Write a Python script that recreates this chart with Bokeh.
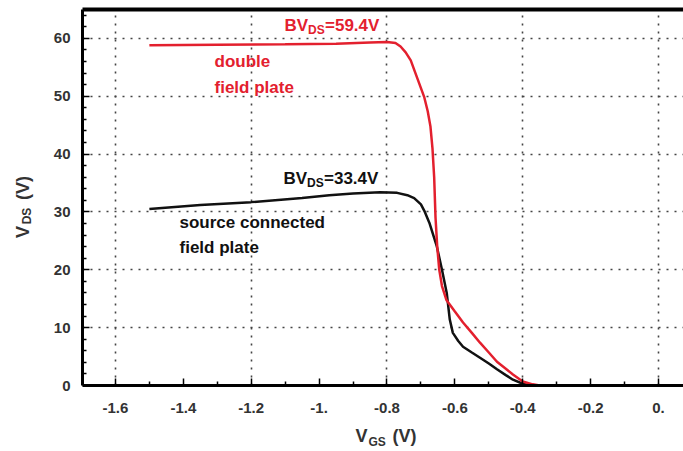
import math
from bokeh.plotting import figure
from bokeh.models import Label, Range1d, FixedTicker, LinearAxis
from bokeh.embed import file_html
from bokeh.resources import INLINE

# ---- data ----
black_x = [-1.50, -1.35, -1.20, -1.05, -0.97, -0.90, -0.82, -0.77, -0.74, -0.72, -0.70, -0.69,
           -0.675, -0.653, -0.638, -0.624, -0.615, -0.606, -0.59, -0.576, -0.55, -0.526, -0.50,
           -0.476, -0.45, -0.429, -0.40, -0.38, -0.35, -0.20, 0.0]
black_y = [30.5, 31.2, 31.7, 32.4, 32.9, 33.2, 33.4, 33.3, 32.9, 32.4, 31.3, 30.2,
           28.1, 24.0, 20.0, 16.0, 11.4, 9.1, 7.7, 6.7, 5.7, 4.8, 3.8,
           2.8, 1.8, 1.0, 0.3, 0.0, 0.0, 0.0, 0.0]

red_x = [-1.50, -1.30, -1.10, -0.95, -0.85, -0.80, -0.775, -0.76, -0.745, -0.73, -0.71, -0.69,
         -0.68, -0.672, -0.666, -0.661, -0.657, -0.652, -0.646, -0.638, -0.625, -0.60, -0.576,
         -0.55, -0.526, -0.50, -0.476, -0.45, -0.429, -0.40, -0.371, -0.35, 0.0]
red_y = [58.8, 58.9, 59.0, 59.1, 59.3, 59.4, 59.2, 58.6, 57.6, 56.2, 53.0, 49.8,
         47.4, 44.8, 41.0, 36.0, 29.0, 24.0, 20.0, 17.2, 14.8, 12.8, 10.9,
         9.1, 7.4, 5.7, 4.1, 2.9, 1.9, 0.7, 0.2, 0.0, 0.0]

x_tick_vals = [-1.6, -1.4, -1.2, -1.0, -0.8, -0.6, -0.4, -0.2, 0.0]
x_tick_labels = ["-1.6", "-1.4", "-1.2", "-1.", "-0.8", "-0.6", "-0.4", "-0.2", "0."]
x_minor_vals = [-1.7, -1.5, -1.3, -1.1, -0.9, -0.7, -0.5, -0.3, -0.1]
x_grid_vals = [-1.6, -1.2, -0.8, -0.4, 0.0]
y_tick_vals = [0, 10, 20, 30, 40, 50, 60]
y_minor_vals = [2, 4, 6, 8, 12, 14, 16, 18, 22, 24, 26, 28, 32, 34, 36, 38, 42, 44, 46, 48,
                52, 54, 56, 58, 62, 64]
y_grid_vals = [10, 20, 30, 40, 50, 60]

X0, X1 = -1.697, 0.0735
Y0, Y1 = 0, 65
W, H = 683, 451
LEFT, RIGHT, TOP, BOTTOM = 82, 0, 9, 65
FONT = "Liberation Sans"
RED = "#e3202e"
DARK = "#111111"
GRAY = "#333333"

p = figure(width=W, height=H, x_range=Range1d(X0, X1), y_range=Range1d(Y0, Y1),
           output_backend="svg", toolbar_location=None,
           min_border_left=LEFT, min_border_right=RIGHT,
           min_border_top=TOP, min_border_bottom=BOTTOM)
p.outline_line_color = None
p.background_fill_color = "white"
p.border_fill_color = "white"

SX = (W - LEFT - RIGHT) / (X1 - X0)   # px per data unit
SY = (H - TOP - BOTTOM) / (Y1 - Y0)


def px2x(px):
    return X0 + (px - LEFT) / SX


def py2y(py):
    return Y1 - (py - TOP) / SY


# axes
for ax in (p.xaxis[0], p.yaxis[0]):
    ax.axis_line_width = 3
    ax.axis_line_color = "black"
    ax.major_tick_in = 7
    ax.major_tick_out = 0
    ax.minor_tick_in = 4
    ax.minor_tick_out = 0
    ax.major_tick_line_width = 1.5
    ax.minor_tick_line_width = 1.5
    ax.major_tick_line_color = "black"
    ax.minor_tick_line_color = "black"
    ax.major_label_text_font = FONT
    ax.major_label_text_font_style = "bold"
    ax.major_label_text_font_size = "15px"
    ax.major_label_text_color = GRAY

p.xaxis.ticker = FixedTicker(ticks=x_tick_vals, minor_ticks=x_minor_vals)
p.xaxis.major_label_overrides = {v: s for v, s in zip(x_tick_vals, x_tick_labels)}
p.xaxis.major_label_standoff = 17
p.yaxis.ticker = FixedTicker(ticks=y_tick_vals, minor_ticks=y_minor_vals)
p.yaxis.major_label_standoff = 12

top_axis = LinearAxis(axis_line_width=4, axis_line_color="black",
                      major_tick_line_color=None, minor_tick_line_color=None,
                      major_label_text_font_size="0px")
top_axis.ticker = FixedTicker(ticks=[])
p.add_layout(top_axis, "above")


def title_axis(pieces, size, standoff, vertical=False):
    """Axis used only to carry pieces of an axis title (text placed at given positions)."""
    pos = [q for q, _ in pieces]
    ax = LinearAxis(axis_line_color=None, major_tick_line_color=None,
                    minor_tick_line_color=None,
                    major_label_text_font=FONT, major_label_text_font_style="bold",
                    major_label_text_font_size=f"{size}px",
                    major_label_text_color=GRAY,
                    major_label_standoff=standoff)
    ax.ticker = FixedTicker(ticks=pos, minor_ticks=[])
    ax.major_label_overrides = {q: s for q, s in pieces}
    if vertical:
        ax.major_label_orientation = "vertical"
    return ax


# x axis title  V_GS (V)
p.add_layout(title_axis([(px2x(361), "V"), (px2x(404), "(V)")], 18, 4), "below")
p.add_layout(title_axis([(px2x(376.6), "GS")], 12, -20), "below")

# y axis title  V_DS (V)  (reads bottom to top)
p.add_layout(title_axis([(py2y(232), "V"), (py2y(188), "(V)")], 18, 11, True), "left")
p.add_layout(title_axis([(py2y(216), "DS")], 12, -30, True), "left")

# grid
p.xgrid.ticker = FixedTicker(ticks=x_grid_vals)
p.ygrid.ticker = FixedTicker(ticks=y_grid_vals)
for g in (p.xgrid[0], p.ygrid[0]):
    g.grid_line_color = "#444444"
    g.grid_line_dash = "2 6"
    g.grid_line_width = 1.6

# curves
p.line(black_x, black_y, line_color=DARK, line_width=2.5)
p.line(red_x, red_y, line_color=RED, line_width=2.5)


def txt(x, y, s, size, color):
    p.add_layout(Label(x=x, y=y, text=s, text_font=FONT, text_font_style="bold",
                       text_font_size=f"{size}px", text_color=color,
                       text_align="left", text_baseline="middle"))


def bv_label(px, py, value, color):
    x = px2x(px)
    y = py2y(py)
    txt(x, y, "BV", 17, color)
    txt(x + 23.5 / SX, y - 5 / SY, "DS", 12, color)
    txt(x + 40.5 / SX, y, "=" + value, 17, color)


bv_label(284, 25, "59.4V", RED)
bv_label(283, 178, "33.4V", DARK)
txt(px2x(214), py2y(61), "double", 17, RED)
txt(px2x(214), py2y(87), "field plate", 17, RED)
txt(px2x(179), py2y(223), "source connected", 17, DARK)
txt(px2x(179), py2y(248), "field plate", 17, DARK)

open("out.html", "w").write(file_html(p, INLINE))
